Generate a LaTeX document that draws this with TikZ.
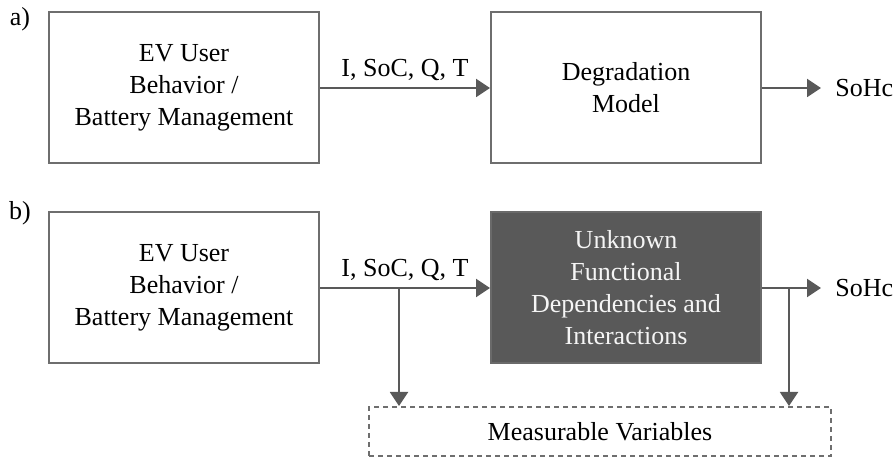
\documentclass[tikz,border=0pt]{standalone}
\usepackage{fontspec}
\setmainfont{Liberation Serif}
\usetikzlibrary{arrows.meta,positioning}
\definecolor{boxgray}{RGB}{110,110,110}
\definecolor{darkgray}{RGB}{89,89,89}
\definecolor{lighttext}{RGB}{245,245,245}

\begin{document}
\begin{tikzpicture}[x=0.5pt, y=-0.5pt,
    box/.style={rectangle, draw=boxgray, line width=1pt, minimum width=135pt, minimum height=75.5pt, inner sep=0pt, font=\fontsize{13}{16}\selectfont, align=center},
    darkbox/.style={box, draw=darkgray!90, fill=darkgray, text=lighttext},
    measbox/.style={rectangle, draw=boxgray, line width=1pt, dash pattern=on 2.5pt off 2pt, minimum width=231pt, minimum height=24.5pt, inner sep=0pt, font=\fontsize{13}{16}\selectfont},
    lbl/.style={font=\fontsize{13}{16}\selectfont, inner sep=0pt, text=black},
    arr/.style={-{Triangle[length=7pt, width=9pt]}, line width=1pt, darkgray},
    node distance=85pt
]
  \useasboundingbox (0,0) rectangle (894,458);

  % a)
  \node[lbl] (tagA) at (20,19) {a)};
  \node[box] (userA) at (184,88) {EV User\\Behavior /\\Battery Management};
  \node[box, right=of userA] (deg) {Degradation\\Model};
  \node[lbl, anchor=west] (sohA) at (835,88) {SoHc};

  \draw[arr] (userA) -- node[lbl, above=3pt] (varsA) {I, SoC, Q, T} (deg);
  \draw[arr] (deg.east) -- ([xshift=-7pt]deg.east -| sohA.west);

  % b)
  \node[lbl] (tagB) at (20,213) {b)};
  \node[box] (userB) at (184,288) {EV User\\Behavior /\\Battery Management};
  \node[darkbox, right=of userB] (unk) {Unknown\\Functional\\Dependencies and\\Interactions};
  \node[lbl, anchor=west] (sohB) at (835,288) {SoHc};
  \node[measbox] (meas) at (600,431.5) {Measurable Variables};

  \coordinate (splitL) at (399,288);
  \coordinate (splitR) at (789,288);

  \draw[arr] (userB) -- node[lbl, above=3pt] (varsB) {I, SoC, Q, T} (unk);
  \draw[arr] (unk.east) -- ([xshift=-7pt]unk.east -| sohB.west);
  \draw[arr] (splitL) -- (splitL |- meas.north);
  \draw[arr] (splitR) -- (splitR |- meas.north);
\end{tikzpicture}
\end{document}
